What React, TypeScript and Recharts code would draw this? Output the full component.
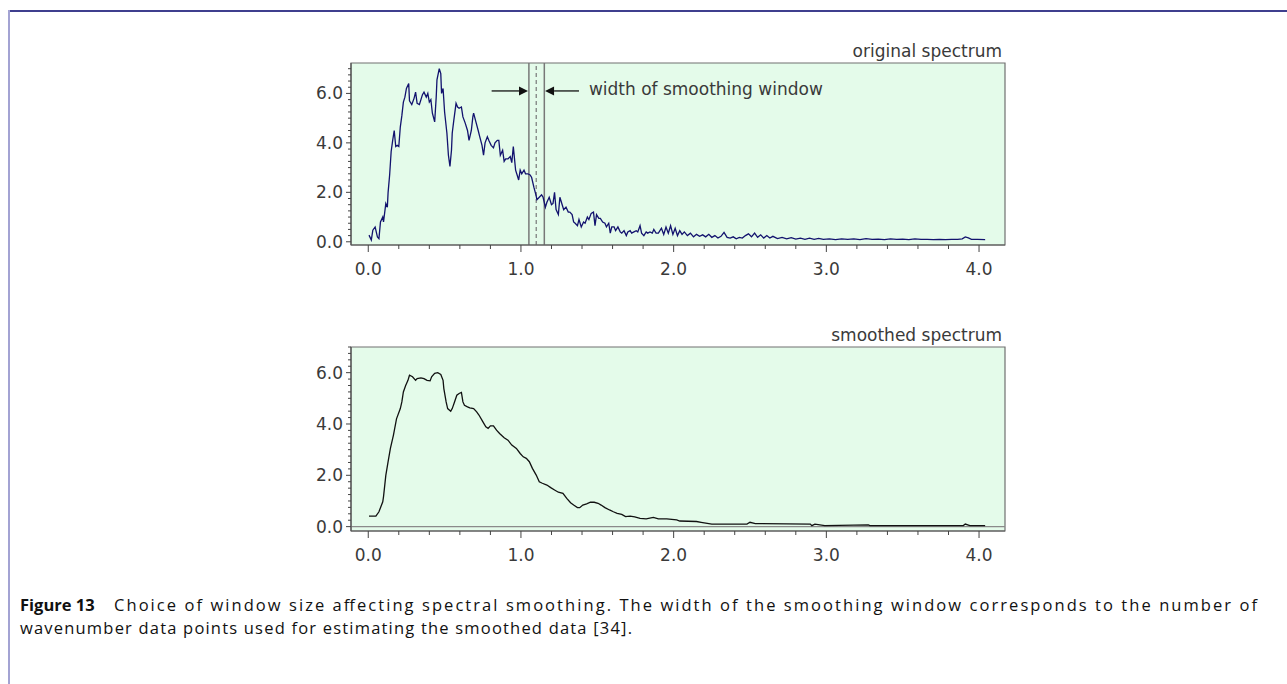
import React from 'react';
import { LineChart, Line, XAxis, YAxis, ReferenceArea, ReferenceLine, ReferenceDot } from 'recharts';

const FONT = '"DejaVu Sans", sans-serif';
const CAPTION_FONT = '"Open Sans", sans-serif';
const TEXT_COLOUR = '#3a3a3a';
const PLOT_FILL = '#e4fbea';

// raw spectrum (wavenumber, intensity)
const rawX = [
  0.005, 0.02, 0.03, 0.045, 0.06, 0.07, 0.08, 0.095, 0.1, 0.115, 0.125, 0.13, 0.14, 0.15, 0.16, 0.17, 0.18, 0.19,
  0.2, 0.21, 0.22, 0.23, 0.24, 0.25, 0.265, 0.27, 0.285, 0.3, 0.31, 0.32, 0.335, 0.345, 0.355, 0.365, 0.38, 0.39,
  0.4, 0.41, 0.42, 0.435, 0.445, 0.45, 0.465, 0.475, 0.48, 0.49, 0.5, 0.515, 0.525, 0.535, 0.545, 0.55, 0.56, 0.575,
  0.585, 0.595, 0.61, 0.62, 0.635, 0.65, 0.66, 0.675, 0.685, 0.69, 0.705, 0.72, 0.73, 0.745, 0.755, 0.765, 0.78,
  0.79, 0.805, 0.82, 0.83, 0.845, 0.855, 0.865, 0.88, 0.89, 0.9, 0.915, 0.93, 0.94, 0.95, 0.965, 0.975, 0.985,
  0.995, 1.005, 1.02, 1.03, 1.045, 1.06, 1.07, 1.085, 1.098, 1.105, 1.12, 1.135, 1.145, 1.16, 1.17, 1.185, 1.2,
  1.21, 1.22, 1.23, 1.245, 1.255, 1.27, 1.28, 1.295, 1.31, 1.32, 1.335, 1.345, 1.355, 1.37, 1.38, 1.395, 1.41, 1.42,
  1.435, 1.445, 1.46, 1.475, 1.485, 1.495, 1.51, 1.52, 1.535, 1.55, 1.56, 1.575, 1.585, 1.595, 1.61, 1.62, 1.635,
  1.65, 1.66, 1.675, 1.69, 1.7, 1.715, 1.725, 1.74, 1.755, 1.765, 1.78, 1.79, 1.805, 1.82, 1.83, 1.845, 1.86, 1.87,
  1.885, 1.9, 1.92, 1.935, 1.95, 1.965, 1.98, 1.995, 2.01, 2.025, 2.04, 2.055, 2.07, 2.09, 2.11, 2.13, 2.15, 2.17,
  2.19, 2.21, 2.23, 2.25, 2.27, 2.29, 2.31, 2.33, 2.35, 2.37, 2.39, 2.41, 2.43, 2.45, 2.47, 2.49, 2.51, 2.53, 2.55,
  2.57, 2.59, 2.61, 2.63, 2.65, 2.68, 2.71, 2.74, 2.77, 2.8, 2.83, 2.86, 2.89, 2.92, 2.95, 2.98, 3.02, 3.06, 3.1,
  3.14, 3.18, 3.22, 3.26, 3.3, 3.34, 3.38, 3.42, 3.46, 3.5, 3.54, 3.58, 3.62, 3.66, 3.7, 3.74, 3.78, 3.82, 3.86,
  3.89, 3.91, 3.93, 3.95, 3.99, 4.04,
];
const rawY = [
  0.27, 0.07, 0.47, 0.6, 0.2, 0.13, 0.8, 1.0, 0.8, 1.55, 1.4, 2.0, 2.7, 3.65, 4.1, 4.5, 3.85, 3.9,
  3.85, 4.65, 5.1, 5.65, 5.85, 6.2, 6.4, 5.7, 5.55, 5.8, 6.05, 5.6, 5.55, 5.75, 5.95, 6.05, 5.85, 6.0,
  5.65, 5.75, 5.2, 4.85, 5.85, 6.55, 7.0, 6.8, 6.0, 6.2, 5.25, 4.4, 3.5, 3.05, 3.7, 4.4, 4.9, 5.6,
  5.45, 5.4, 5.45, 5.05, 4.8, 4.5, 4.1, 4.5, 5.05, 5.2, 4.85, 4.5, 4.25, 3.9, 3.5, 4.0, 4.25,
  4.1, 3.9, 3.8, 4.0, 4.1, 4.1, 3.5, 3.7, 3.25, 3.35, 3.35, 3.45, 3.2, 3.85, 2.9, 2.7, 2.5,
  2.9, 2.75, 2.9, 2.75, 2.75, 2.7, 2.6, 2.2, 1.9, 1.7, 1.8, 1.9, 1.8, 1.4, 1.6, 1.8, 1.5,
  1.55, 2.0, 1.3, 1.1, 1.8, 1.5, 1.3, 1.4, 1.2, 1.2, 1.1, 0.8, 0.75, 0.65, 0.9, 0.6, 0.8, 0.75,
  1.0, 0.9, 1.15, 1.2, 0.65, 1.1, 0.95, 0.95, 0.8, 0.75, 0.6, 0.75, 0.35, 0.6, 0.6, 0.45, 0.6,
  0.4, 0.35, 0.45, 0.25, 0.4, 0.45, 0.35, 0.4, 0.45, 0.4, 0.65, 0.35, 0.25, 0.4, 0.35, 0.4, 0.35, 0.5,
  0.35, 0.35, 0.55, 0.3, 0.6, 0.35, 0.65, 0.3, 0.55, 0.25, 0.45, 0.3, 0.4, 0.25, 0.35, 0.2, 0.3, 0.22,
  0.28, 0.2, 0.3, 0.18, 0.25, 0.15, 0.22, 0.38, 0.18, 0.15, 0.2, 0.12, 0.18, 0.15, 0.25, 0.32, 0.2, 0.35, 0.18,
  0.28, 0.15, 0.25, 0.15, 0.22, 0.13, 0.18, 0.12, 0.17, 0.11, 0.15, 0.1, 0.15, 0.1, 0.14, 0.1, 0.12, 0.09, 0.12,
  0.1, 0.12, 0.09, 0.13, 0.1, 0.11, 0.09, 0.12, 0.1, 0.11, 0.09, 0.12, 0.1, 0.1, 0.09, 0.1, 0.09, 0.1, 0.1,
  0.12, 0.2, 0.16, 0.1, 0.1, 0.09,
];

// smoothed spectrum (wavenumber, intensity)
const smoothX = [
  0.005, 0.05, 0.07, 0.095, 0.1, 0.115, 0.13, 0.145, 0.165, 0.185, 0.21, 0.22, 0.23, 0.245, 0.26, 0.27, 0.29, 0.31,
  0.32, 0.345, 0.365, 0.385, 0.405, 0.415, 0.435, 0.455, 0.475, 0.49, 0.495, 0.51, 0.52, 0.54, 0.55, 0.565, 0.58,
  0.595, 0.61, 0.62, 0.63, 0.65, 0.665, 0.69, 0.71, 0.725, 0.75, 0.77, 0.785, 0.8, 0.82, 0.84, 0.86, 0.89, 0.915,
  0.94, 0.97, 0.995, 1.015, 1.035, 1.055, 1.075, 1.1, 1.12, 1.14, 1.17, 1.195, 1.22, 1.245, 1.275, 1.3, 1.325,
  1.345, 1.37, 1.385, 1.405, 1.43, 1.455, 1.48, 1.505, 1.525, 1.55, 1.58, 1.605, 1.63, 1.66, 1.685, 1.715, 1.745,
  1.78, 1.82, 1.867, 1.9, 1.955, 2.02, 2.04, 2.15, 2.18, 2.25, 2.48, 2.5, 2.535, 2.895, 2.905, 2.925, 2.99, 3.275,
  3.285, 3.897, 3.91, 3.94, 4.04,
];
const smoothY = [
  0.41, 0.41, 0.58, 0.97, 1.17, 2.0, 2.53, 3.05, 3.57, 4.2, 4.6, 4.86, 5.25, 5.5, 5.7, 5.9, 5.84, 5.7,
  5.77, 5.8, 5.77, 5.7, 5.68, 5.84, 5.97, 6.0, 5.93, 5.7, 5.38, 4.86, 4.6, 4.5, 4.6, 4.86, 5.12,
  5.19, 5.23, 4.86, 4.73, 4.67, 4.63, 4.6, 4.47, 4.35, 4.09, 3.89, 3.83, 3.93, 3.93, 3.76, 3.63, 3.46, 3.37,
  3.18, 3.05, 2.85, 2.72, 2.66, 2.53, 2.27, 2.01, 1.75, 1.69, 1.62, 1.52, 1.43, 1.34, 1.3, 1.1, 0.93,
  0.84, 0.74, 0.74, 0.84, 0.89, 0.95, 0.95, 0.91, 0.84, 0.74, 0.65, 0.58, 0.52, 0.48, 0.39, 0.41, 0.38,
  0.32, 0.3, 0.36, 0.3, 0.3, 0.26, 0.22, 0.2, 0.17, 0.1, 0.1, 0.17, 0.12, 0.1, 0.04, 0.1, 0.04, 0.07,
  0.04, 0.04, 0.1, 0.04, 0.04,
];

const xLabels = ['0.0', '1.0', '2.0', '3.0', '4.0'];
const yLabels = ['0.0', '2.0', '4.0', '6.0'];
const xTicks = Array.from({ length: 21 }, (_, i) => +(i * 0.2).toFixed(1));
const yTicks = Array.from({ length: 29 }, (_, i) => i * 0.25);
const X_DOMAIN: [number, number] = [-0.113, 4.17];

// smoothing window edges and centre
const windowLeft = 1.052;
const windowCentre = 1.1;
const windowRight = 1.153;

const rawData = rawX.map((x, i) => ({ x, y: rawY[i] }));
const smoothData = smoothX.map((x, i) => ({ x, y: smoothY[i] }));

const XTick = (props: any) => {
  const { x, y, payload } = props;
  const v = payload.value;
  const major = Math.abs(v - Math.round(v)) < 1e-6;
  return (
    <g>
      <line x1={x} x2={x} y1={y} y2={y + (major ? 7 : 4)} stroke="#444" />
      {major && (
        <text x={x} y={y + 24} dy="0.35em" textAnchor="middle" fontFamily={FONT} fontSize={17} fill={TEXT_COLOUR}>
          {xLabels[Math.round(v)]}
        </text>
      )}
    </g>
  );
};

const YTick = (props: any) => {
  const { x, y, payload } = props;
  const v = payload.value;
  const major = Math.abs(v / 2 - Math.round(v / 2)) < 1e-6;
  return (
    <g>
      <line x1={x - (major ? 5 : 3)} x2={x} y1={y} y2={y} stroke="#444" />
      {major && (
        <text x={x - 8} y={y} dy="0.35em" textAnchor="end" fontFamily={FONT} fontSize={17} fill={TEXT_COLOUR}>
          {yLabels[Math.round(v / 2)]}
        </text>
      )}
    </g>
  );
};

const arrowShape = (p: any) => {
  const { x1, y1, x2, y2 } = p;
  const dir = x2 > x1 ? 1 : -1;
  const head = 9;
  return (
    <g>
      <line x1={x1} y1={y1} x2={x2 - dir * head} y2={y2} stroke="#111" strokeWidth={1.3} />
      <polygon points={`${x2},${y2} ${x2 - dir * head},${y2 - 4.5} ${x2 - dir * head},${y2 + 4.5}`} fill="#111" />
    </g>
  );
};

function Panel({ data, yDomain, height, marginTop, stroke, children }: any) {
  return (
    <LineChart width={720} height={height} data={data} margin={{ top: marginTop, right: 15, bottom: 0, left: 0 }}>
      <ReferenceArea
        x1={X_DOMAIN[0]} x2={X_DOMAIN[1]} y1={yDomain[0]} y2={yDomain[1]}
        fill={PLOT_FILL} fillOpacity={1} stroke="#707070" strokeWidth={1.2} ifOverflow="visible"
      />
      <XAxis
        dataKey="x" type="number" domain={X_DOMAIN} allowDataOverflow ticks={xTicks} interval={0}
        height={42} tickSize={0} tickMargin={0} tickLine={false} axisLine={{ stroke: '#555', strokeWidth: 1.2 }}
        tick={<XTick />}
      />
      <YAxis
        type="number" domain={yDomain} allowDataOverflow ticks={yTicks} interval={0}
        width={51} tickSize={0} tickMargin={0} tickLine={false} axisLine={{ stroke: '#555', strokeWidth: 1.2 }}
        tick={<YTick />}
      />
      {children}
      <Line dataKey="y" type="linear" dot={false} stroke={stroke} strokeWidth={1.3} isAnimationActive={false} />
    </LineChart>
  );
}

export default function App() {
  return (
    <div style={{ position: 'absolute', left: 0, top: 0, width: 1287, height: 684, background: '#fff', overflow: 'hidden' }}>
      <div style={{ position: 'absolute', left: 9, top: 10, width: 1278, height: 2, background: '#3f3f8e' }} />
      <div style={{ position: 'absolute', left: 8, top: 10, width: 2, height: 674, background: '#a3a3d3' }} />

      <div style={{ position: 'absolute', left: 300, top: 40 }}>
        <Panel data={rawData} yDomain={[-0.13, 7.23]} height={247} marginTop={23} stroke="#12126e">
          <ReferenceLine x={windowLeft} stroke="#787878" strokeWidth={1.5} />
          <ReferenceLine x={windowCentre} stroke="#787878" strokeWidth={1.2} strokeDasharray="4 3" />
          <ReferenceLine x={windowRight} stroke="#787878" strokeWidth={1.5} />
          <ReferenceLine segment={[{ x: 0.808, y: 6.1 }, { x: 1.046, y: 6.1 }]} shape={arrowShape} />
          <ReferenceLine segment={[{ x: 1.38, y: 6.1 }, { x: 1.158, y: 6.1 }]} shape={arrowShape} />
          <ReferenceDot
            x={1.445} y={6.2} r={0} fill="none" stroke="none"
            label={{ value: 'width of smoothing window', position: 'right', offset: 0, fill: TEXT_COLOUR, fontSize: 17, fontFamily: FONT }}
          />
        </Panel>
      </div>

      <div style={{ position: 'absolute', left: 300, top: 325 }}>
        <Panel data={smoothData} yDomain={[-0.17, 7.0]} height={248} marginTop={22} stroke="#111">
          <ReferenceLine y={0} stroke="#8a8a8a" strokeWidth={1.2} />
        </Panel>
      </div>

      <svg width={1287} height={684} style={{ position: 'absolute', left: 0, top: 0, pointerEvents: 'none' }}>
        <text x={1002} y={57} textAnchor="end" fontFamily={FONT} fontSize={17} fill={TEXT_COLOUR}>original spectrum</text>
        <text x={1002} y={341} textAnchor="end" fontFamily={FONT} fontSize={17} fill={TEXT_COLOUR}>smoothed spectrum</text>
        <text x={20} y={611} fontFamily={CAPTION_FONT} fontSize={16.5} fontWeight="bold" fill="#111">Figure 13</text>
        <text x={114} y={611} textLength={1143} fontFamily={CAPTION_FONT} fontSize={16.5} fill="#111">
          Choice of window size affecting spectral smoothing. The width of the smoothing window corresponds to the number of
        </text>
        <text x={20} y={634} textLength={612} fontFamily={CAPTION_FONT} fontSize={16.5} fill="#111">
          wavenumber data points used for estimating the smoothed data [34].
        </text>
      </svg>
    </div>
  );
}
